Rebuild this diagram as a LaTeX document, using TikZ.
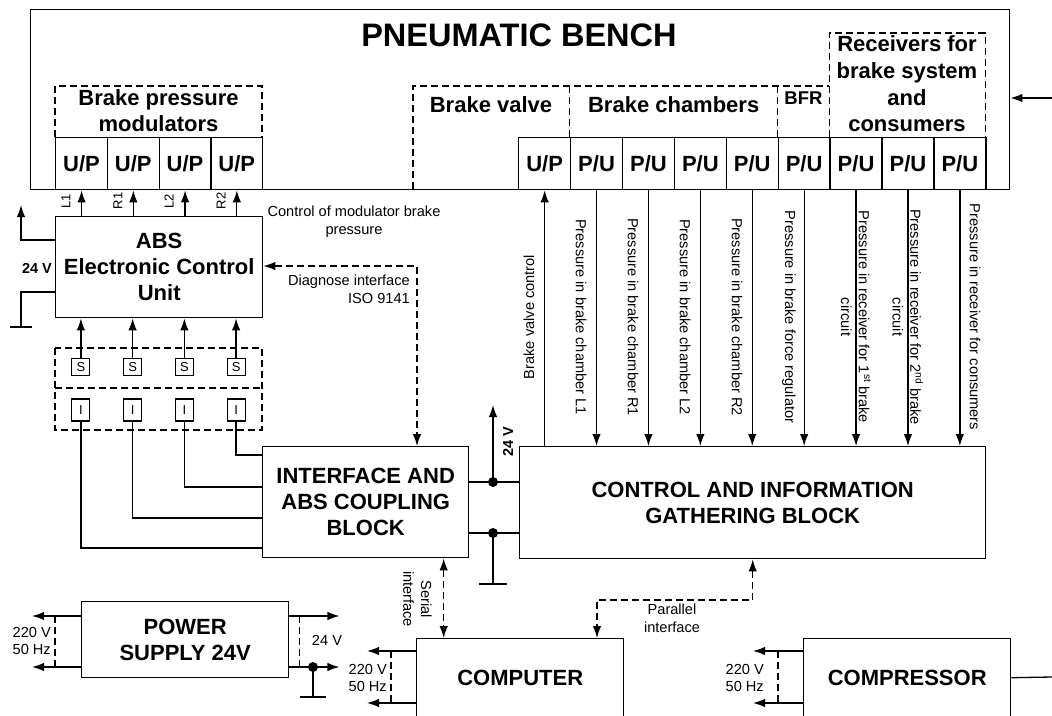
\documentclass[tikz,border=0pt]{standalone}
\usepackage{fontspec}
\setmainfont{Liberation Sans}
\usetikzlibrary{arrows.meta,calc}
\begin{document}
\begin{tikzpicture}[x=1pt,y=-1pt,
  lw/.style={line width=1.3pt},
  blk/.style={draw, line width=1.4pt, rectangle, inner sep=0pt, anchor=north west},
  dsh/.style={line width=1.1pt, dash pattern=on 7pt off 4pt},
  arr/.style={lw, -{Latex[length=12pt,width=8.5pt]}},
  darr/.style={lw, {Latex[length=12pt,width=8.5pt]}-{Latex[length=12pt,width=8.5pt]}, dash pattern=on 7pt off 4pt},
  bigf/.style={font=\fontsize{22}{26}\selectfont\bfseries, align=center},
  smf/.style={font=\fontsize{14.6}{17.8}\selectfont, align=center},
  lblf/.style={font=\fontsize{13}{15}\selectfont, inner sep=0pt},
  sbox/.style={draw, line width=1.2pt, minimum width=18pt, minimum height=17pt, inner sep=0pt, font=\fontsize{13}{15}\selectfont},
  ibox/.style={draw, line width=1.2pt, minimum width=18pt, minimum height=22pt, inner sep=0pt, font=\fontsize{13}{15}\selectfont},
  jdot/.style={circle, fill, inner sep=0pt, minimum size=10pt},
]
\path[use as bounding box] (0,0) rectangle (1052,715);
\clip (0,0) rectangle (1052,715);

% ---------- pneumatic bench ----------
\node[blk, minimum width=979pt, minimum height=180pt] (bench) at (30,9) {};
\node[font=\fontsize{32.5}{38}\selectfont\bfseries] (title) at (519,35) {PNEUMATIC BENCH};

\draw[dsh] (55,137) -- (55,86) -- (262,86) -- (262,137);
\node[bigf] (modt) at (158.5,111) {Brake pressure\\modulators};
\foreach \i in {1,...,4}{
  \pgfmathsetmacro\xx{55+51.75*(\i-1)}
  \node[blk, bigf, minimum width=51.75pt, minimum height=52pt] (m\i) at (\xx,137) {U/P};
}

\node[blk, bigf, minimum width=51.9pt, minimum height=52pt] (bv) at (518,137) {U/P};
\foreach \i in {1,...,8}{
  \pgfmathsetmacro\xx{518+51.9*\i}
  \node[blk, bigf, minimum width=51.9pt, minimum height=52pt] (p\i) at (\xx,137) {P/U};
}
\draw[dsh] (413,189) -- (413,86) -- (829.4,86);
\draw[dsh] (569.9,86) -- (569.9,137);
\draw[dsh] (777.5,86) -- (777.5,137);
\draw[dsh] (829.4,137) -- (829.4,33) -- (985.1,33) -- (985.1,137);
\node[bigf] (bvt) at (491,105) {Brake valve};
\node[bigf] (bct) at (673.7,105) {Brake chambers};
\node[font=\fontsize{18.5}{21}\selectfont\bfseries] (bfrt) at (803.5,98) {BFR};
\node[font=\fontsize{22}{26.7}\selectfont\bfseries, align=center] (rct) at (907,84) {Receivers for\\brake system\\and\\consumers};

\coordinate (rin) at (1052,98);
\draw[arr] (rin) -- (rin -| bench.east);

% ---------- ABS ECU ----------
\node[blk, bigf, minimum width=207pt, minimum height=101pt] (abs) at (55,216) {ABS\\Electronic Control\\Unit};
\foreach \i in {1,...,4}{
  \draw[arr] (m\i.south |- abs.north) -- (m\i.south);
}
\node[lblf, rotate=90] (l1) at (66,201) {L1};
\node[lblf, rotate=90] (r1) at (118,201) {R1};
\node[lblf, rotate=90] (l2) at (169,201) {L2};
\node[lblf, rotate=90] (r2) at (221,201) {R2};
\node[smf] (ctrlmod) at (354,222) {Control of modulator brake\\pressure};

\coordinate (a24) at (21,240);
\coordinate (vup) at (21,205);
\draw[arr] (a24 -| abs.west) -- (a24) -- (vup);
\coordinate (ag) at (21,292);
\coordinate (g1) at (21,327);
\draw[lw] (ag -| abs.west) -- (ag) -- (g1);
\draw[lw] ([xshift=-11pt]g1) -- ([xshift=11pt]g1);
\node[font=\fontsize{14.5}{17}\selectfont\bfseries] (v24a) at (37,268) {24 V};

% ---------- sensors ----------
\draw[dsh] (55,348) rectangle (262,430);
\draw[dsh] (55,388) -- (262,388);
\foreach \i in {1,...,4}{
  \pgfmathsetmacro\xx{55+51.75*(\i-0.5)}
  \node[sbox] (s\i) at (\xx,367) {S};
  \node[ibox] (i\i) at (\xx,410) {I};
  \draw[arr] (s\i.north) -- (s\i.north |- abs.south);
}

% ---------- interface & control ----------
\node[blk, bigf, minimum width=206pt, minimum height=111pt] (intf) at (262,446) {INTERFACE AND\\ABS COUPLING\\BLOCK};
\node[blk, bigf, minimum width=466pt, minimum height=112pt] (ctrl) at (519,446) {CONTROL AND INFORMATION\\GATHERING BLOCK};

\foreach \i/\dy in {4/9,3/41,2/72,1/102}{
  \draw[lw] (i\i.south) |- ([yshift=-\dy pt]intf.north west);
}

\coordinate (dg) at (417,266);
\draw[darr] (dg -| abs.east) -- (dg) -- (dg |- intf.north);
\node[smf, align=right, anchor=east, inner sep=0pt] (diag) at (410,289.5) {Diagnose interface\\ISO 9141};

\coordinate (j1) at (493,482);
\coordinate (j2) at (493,533);
\coordinate (v24) at (493,405);
\coordinate (g2) at (493,584);
\draw[lw] (j1 -| intf.east) -- (j1 -| ctrl.west);
\draw[lw] (j2 -| intf.east) -- (j2 -| ctrl.west);
\draw[arr] (j1) -- (v24);
\draw[lw] (j2) -- (g2);
\draw[lw] ([xshift=-14pt]g2) -- ([xshift=14pt]g2);
\node[jdot] (d1) at (j1) {};
\node[jdot] (d2) at (j2) {};
\node[font=\fontsize{14.5}{17}\selectfont\bfseries, rotate=90] (v24b) at (508,442) {24 V};

% vertical signal lines
\draw[arr] (bv.south |- ctrl.north) -- (bv.south);
\foreach \i in {1,...,8}{
  \draw[arr] (p\i.south) -- (p\i.south |- ctrl.north);
}
\node[smf, rotate=90] (lbv) at (529,317) {Brake valve control};
\node[smf, rotate=-90] (lp1) at (581,317) {Pressure in brake chamber L1};
\node[smf, rotate=-90] (lp2) at (633,317) {Pressure in brake chamber R1};
\node[smf, rotate=-90] (lp3) at (685,317) {Pressure in brake chamber L2};
\node[smf, rotate=-90] (lp4) at (737,317) {Pressure in brake chamber R2};
\node[smf, rotate=-90] (lp5) at (789,317) {Pressure in brake force regulator};
\node[smf, rotate=-90] (lp6) at (855.8,317) {Pressure in receiver for 1\textsuperscript{st} brake\\circuit};
\node[smf, rotate=-90] (lp7) at (907.7,317) {Pressure in receiver for 2\textsuperscript{nd} brake\\circuit};
\node[smf, rotate=-90] (lp8) at (975,317) {Pressure in receiver for consumers};

% ---------- bottom row ----------
\node[blk, bigf, minimum width=207pt, minimum height=76pt] (psu) at (81,601) {POWER\\SUPPLY 24V};
\node[blk, bigf, minimum width=207pt, minimum height=78pt] (comp) at (416,638) {COMPUTER};
\node[blk, bigf, minimum width=207pt, minimum height=78pt] (compr) at (803,638) {COMPRESSOR};

\draw[darr] ([xshift=78pt]intf.south) -- ([xshift=78pt]intf.south |- comp.north);
\node[smf, rotate=-90] (ser) at (417.5,599) {Serial\\interface};

\coordinate (pp) at (597,600);
\draw[darr] (ctrl.south) |- (pp) -- (pp |- comp.north);
\node[smf] (par) at (672,618) {Parallel\\interface};

\coordinate (cr) at (1052,677);
\draw[lw] (compr.east) -- (cr);

% power supply mains
\draw[arr] ([yshift=-15pt]psu.north west) -- ++(-49,0);
\draw[arr] ([yshift=-66pt]psu.north west) -- ++(-49,0);
\draw[dsh] ([shift={(-26,15)}]psu.north west) -- ([shift={(-26,66)}]psu.north west);
\node[smf, align=right, anchor=east, inner sep=0pt] (psm) at ([shift={(-30,40)}]psu.north west) {220 V\\50 Hz};
% power supply output
\draw[arr] ([yshift=-15pt]psu.north east) -- ++(50,0);
\draw[arr] ([yshift=-66pt]psu.north east) -- ++(50,0);
\draw[dsh] ([shift={(10,15)}]psu.north east) -- ([shift={(10,66)}]psu.north east);
\node[smf] (pso) at (327,640) {24 V};
\coordinate (pd) at (313,667);
\coordinate (g3) at (313,697);
\draw[lw] (pd) -- (g3);
\draw[lw] ([xshift=-13pt]g3) -- ([xshift=13pt]g3);
\node[jdot] (d3) at (pd) {};

% computer mains
\draw[arr] ([yshift=-13pt]comp.north west) -- ++(-49,0);
\draw[arr] ([yshift=-65pt]comp.north west) -- ++(-49,0);
\draw[dsh] ([shift={(-25,13)}]comp.north west) -- ([shift={(-25,65)}]comp.north west);
\node[smf, align=right, anchor=east, inner sep=0pt] (cm) at ([shift={(-29,40)}]comp.north west) {220 V\\50 Hz};

% compressor mains
\draw[arr] ([yshift=-13pt]compr.north west) -- ++(-50,0);
\draw[arr] ([yshift=-65pt]compr.north west) -- ++(-50,0);
\draw[dsh] ([shift={(-25,13)}]compr.north west) -- ([shift={(-25,65)}]compr.north west);
\node[smf, align=right, anchor=east, inner sep=0pt] (crm) at ([shift={(-39,40)}]compr.north west) {220 V\\50 Hz};
\end{tikzpicture}
\end{document}
